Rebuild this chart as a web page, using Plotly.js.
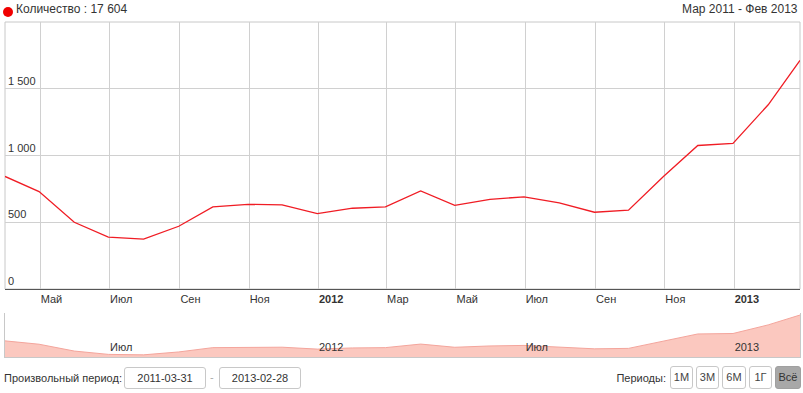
<!DOCTYPE html>
<html>
<head>
<meta charset="utf-8">
<script src="https://cdn.plot.ly/plotly-3.0.1.min.js"></script>
<style>
html,body{margin:0;padding:0;background:#fff;font-family:"Liberation Sans",Arial,sans-serif;}
#wrap{position:relative;width:803px;height:393px;overflow:hidden;}
#chart{position:absolute;left:0;top:0;width:803px;height:393px;}
.lbl{position:absolute;font-size:11px;color:#333;white-space:nowrap;}
.box{position:absolute;border:1px solid #c8c8c8;border-radius:3px;font-size:11px;color:#333;text-align:center;box-sizing:border-box;background:#fff;}
.btn{position:absolute;border:1px solid #c8c8c8;border-radius:3px;font-size:11px;color:#444;text-align:center;box-sizing:border-box;background:#fff;}
#dot{position:absolute;left:3px;top:7px;width:10px;height:10px;border-radius:50%;background:#f00000;}
</style>
</head>
<body>
<div id="wrap">
<div id="chart"></div>
<div id="dot"></div>
<div class="lbl" style="left:4px;top:372px;">Произвольный период:</div>
<div class="box" style="left:124px;top:367px;width:82px;height:22px;line-height:20px;">2011-03-31</div>
<div class="lbl" style="left:210px;top:371px;color:#aaa;">-</div>
<div class="box" style="left:219px;top:367px;width:82px;height:22px;line-height:20px;">2013-02-28</div>
<div class="lbl" style="right:137px;top:372px;">Периоды:</div>
<div class="btn" style="left:670px;top:366px;width:23px;height:23px;line-height:21px;">1M</div>
<div class="btn" style="left:696px;top:366px;width:23px;height:23px;line-height:21px;">3M</div>
<div class="btn" style="left:722px;top:366px;width:24px;height:23px;line-height:21px;">6M</div>
<div class="btn" style="left:749px;top:366px;width:23px;height:23px;line-height:21px;">1Г</div>
<div class="btn" style="left:775px;top:366px;width:26px;height:23px;line-height:21px;background:#a8a8a8;border-color:#a0a0a0;color:#333;">Всё</div>
</div>
<script>
const dates = ["2011-03-31","2011-04-30","2011-05-31","2011-06-30","2011-07-31","2011-08-31",
  "2011-09-30","2011-10-31","2011-11-30","2011-12-31","2012-01-31","2012-02-29",
  "2012-03-31","2012-04-30","2012-05-31","2012-06-30","2012-07-31","2012-08-31",
  "2012-09-30","2012-10-31","2012-11-30","2012-12-31","2013-01-31","2013-02-28"];
const values = [843,730,500,388,373,470,615,634,630,565,605,615,735,627,672,690,645,575,590,845,1075,1090,1380,1712];
const xTickVals = ["2011-05-01","2011-07-01","2011-09-01","2011-11-01","2012-01-01","2012-03-01","2012-05-01","2012-07-01","2012-09-01","2012-11-01","2013-01-01"];
const xTickText = ["Май","Июл","Сен","Ноя","<b>2012</b>","Мар","Май","Июл","Сен","Ноя","<b>2013</b>"];
const navTickVals = ["2011-07-01","2012-01-01","2012-07-01","2013-01-01"];
const navTickText = ["Июл","2012","Июл","2013"];
const yTickVals = [0,500,1000,1500];
const yTickText = ["0","500","1 000","1 500"];
const seriesName = "Количество";
const totalText = "17 604";
const periodText = "Мар 2011 - Фев 2013";

const plotTop = 22, plotBottom = 357;
const H = plotBottom - plotTop;
const mainDom = [(357-289)/H, 1];
const navDom = [0, (357-313)/H];
const xr = [dates[0], dates[dates.length-1]];

const traces = [
  {x: dates, y: values, type: "scatter", mode: "lines", xaxis: "x", yaxis: "y",
   line: {color: "#f01c24", width: 1.3}, hoverinfo: "x+y", showlegend: false},
  {x: dates, y: values, type: "scatter", mode: "lines", xaxis: "x2", yaxis: "y2",
   fill: "tozeroy", fillcolor: "rgba(250,190,180,0.85)",
   line: {color: "#f4a59c", width: 1}, hoverinfo: "skip", showlegend: false}
];

const f = {family: "Liberation Sans, Arial, sans-serif", size: 11, color: "#333"};
const layout = {
  width: 803, height: 393,
  margin: {l: 5, r: 3, t: 22, b: 36},
  paper_bgcolor: "#fff", plot_bgcolor: "#fff",
  font: f,
  showlegend: false,
  xaxis: {domain: [0,1], anchor: "y", type: "date", range: xr,
    tickmode: "array", tickvals: xTickVals, ticktext: xTickText,
    ticklabelposition: "outside right", ticks: "", showgrid: true, gridcolor: "#d0d0d0", gridwidth: 1,
    showline: true, linecolor: "#555", linewidth: 1, zeroline: false, tickfont: f, fixedrange: true},
  yaxis: {domain: mainDom, anchor: "x", range: [0, 2000],
    tickmode: "array", tickvals: yTickVals, ticktext: yTickText,
    ticklabelposition: "inside top", ticks: "", showgrid: true, gridcolor: "#d0d0d0",
    showline: false, zeroline: false, tickfont: f, fixedrange: true},
  xaxis2: {domain: [0,1], anchor: "y2", type: "date", range: xr,
    tickmode: "array", tickvals: navTickVals, ticktext: navTickText,
    ticklabelposition: "inside right", ticks: "", showgrid: false,
    showline: true, linecolor: "#c8c8c8", zeroline: false, tickfont: f, fixedrange: true},
  yaxis2: {domain: navDom, anchor: "x2", range: [300, 1780], showticklabels: false,
    ticks: "", showgrid: false, zeroline: false, showline: true, linecolor: "#c8c8c8", mirror: true, fixedrange: true},
  shapes: [
    {type: "rect", xref: "paper", yref: "y domain", x0: 0, x1: 1, y0: 0, y1: 1,
     line: {color: "#c8c8c8", width: 1}, fillcolor: "rgba(0,0,0,0)", layer: "below"}
  ],
  annotations: [
    {xref: "paper", yref: "paper", x: 0.0113, y: 1, yshift: 22, xanchor: "left", yanchor: "top",
     showarrow: false, align: "left",
     text: seriesName + " : " + totalText,
     font: {family: "Liberation Sans, Arial, sans-serif", size: 12, color: "#333"}},
    {xref: "paper", yref: "paper", x: 1, y: 1, yshift: 22, xanchor: "right", yanchor: "top",
     showarrow: false, text: periodText,
     font: {family: "Liberation Sans, Arial, sans-serif", size: 12, color: "#333"}}
  ]
};
Plotly.newPlot("chart", traces, layout, {displayModeBar: false, staticPlot: true});
</script>
</body>
</html>
